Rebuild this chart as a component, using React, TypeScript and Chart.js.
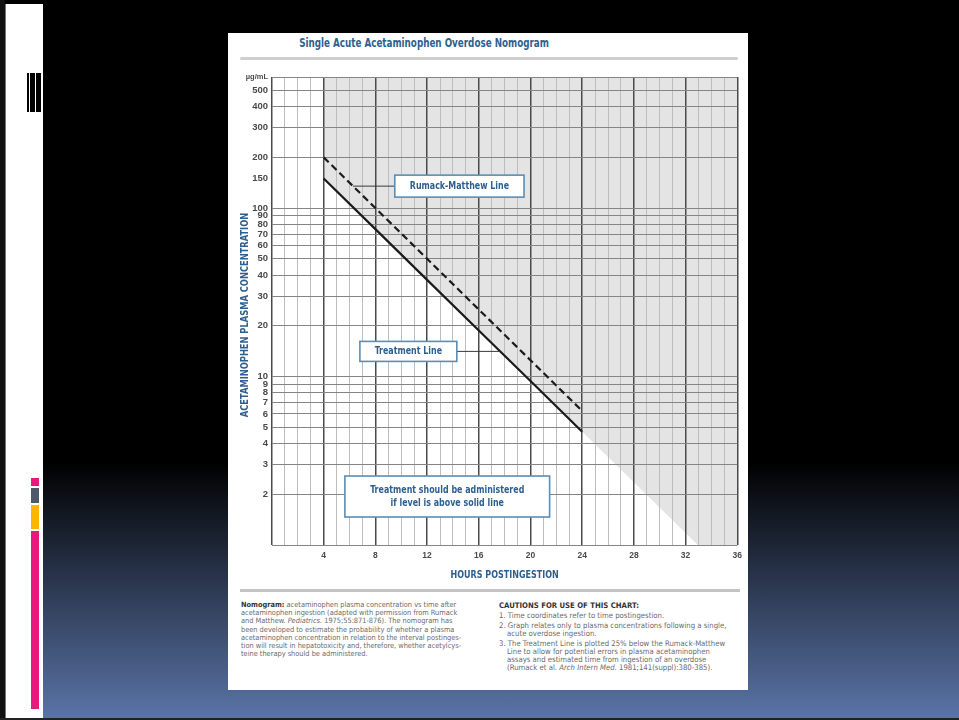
import React, { useEffect, useRef } from 'react';
import { Chart, registerables } from 'chart.js';

Chart.register(...registerables);

// ---- data ----
const rumackHours = [4, 8, 12, 16, 20, 24];
const rumackLevels = [200, 100, 50, 25, 12.5, 6.25];
const treatmentHours = [4, 8, 12, 16, 20, 24];
const treatmentLevels = [150, 75, 37.5, 18.75, 9.4, 4.7];
const shadeHours = [4, 36];
const shadeLevels = [150, 0.59];
const xTickHours = [0, 1, 2, 3, 4, 5, 6, 7, 8, 9, 10, 11, 12, 13, 14, 15, 16, 17, 18, 19, 20, 21, 22, 23, 24, 25, 26, 27, 28, 29, 30, 31, 32, 33, 34, 35, 36];
const xLabelHours = [4, 8, 12, 16, 20, 24, 28, 32, 36];
const xMajorHours = [0, 4, 8, 12, 16, 20, 24, 28, 32, 36];
const yTickValues = [1, 2, 3, 4, 5, 6, 7, 8, 9, 10, 20, 30, 40, 50, 60, 70, 80, 90, 100, 150, 200, 300, 400, 500, 600];
const yTickLabels = ['', '2', '3', '4', '5', '6', '7', '8', '9', '10', '20', '30', '40', '50', '60', '70', '80', '90', '100', '150', '200', '300', '400', '500', 'µg/mL'];
const yUnitValue = 600;
const yNoGridValues = [150];
const xAxisTitle = 'HOURS POSTINGESTION';
const yAxisTitle = 'ACETAMINOPHEN PLASMA CONCENTRATION';

// ---- annotation layout (data-space anchors) ----
const BLUE = '#2f5f8f';
const BOX_BORDER = '#5b8db5';
const notes = [
  { x0: 9.5, x1: 19.5, y: 135, h: 22, lines: ['Rumack-Matthew Line'], lx0: 6.26, lx1: 9.5 },
  { x0: 6.8, x1: 14.3, y: 14.1, h: 20, lines: ['Treatment Line'], lx0: 14.3, lx1: 17.65 },
  { x0: 5.64, x1: 21.48, y: 1.94, h: 41, lines: ['Treatment should be administered', 'if level is above solid line'] },
];

const COND = '"DejaVu Sans Condensed", "Liberation Sans Narrow", sans-serif';
const SANS = '"Liberation Sans", Arial, sans-serif';

function squeezedText(ctx: CanvasRenderingContext2D, text: string, x: number, y: number, sx: number, rot = 0) {
  ctx.save();
  ctx.translate(x, y);
  if (rot) ctx.rotate(rot);
  ctx.scale(sx, 1);
  ctx.fillText(text, 0, 0);
  ctx.restore();
}

const notesPlugin = {
  id: 'nomogramNotes',
  afterDatasetsDraw(chart: any) {
    const { ctx, scales, chartArea } = chart;
    const x = scales.x;
    const y = scales.y;
    ctx.save();
    for (const n of notes) {
      const cy = y.getPixelForValue(n.y);
      if (n.lx0 !== undefined) {
        ctx.beginPath();
        ctx.moveTo(x.getPixelForValue(n.lx0), cy);
        ctx.lineTo(x.getPixelForValue(n.lx1), cy);
        ctx.strokeStyle = '#3a3a3a';
        ctx.lineWidth = 1;
        ctx.stroke();
      }
      const left = x.getPixelForValue(n.x0);
      const right = x.getPixelForValue(n.x1);
      const top = cy - n.h / 2;
      ctx.fillStyle = '#ffffff';
      ctx.fillRect(left, top, right - left, n.h);
      ctx.strokeStyle = BOX_BORDER;
      ctx.lineWidth = 1.6;
      ctx.strokeRect(left, top, right - left, n.h);
      ctx.fillStyle = BLUE;
      ctx.font = `bold 11px ${COND}`;
      ctx.textAlign = 'center';
      ctx.textBaseline = 'middle';
      const lh = 13;
      const startY = cy - ((n.lines.length - 1) * lh) / 2;
      n.lines.forEach((t, i) => squeezedText(ctx, t, (left + right) / 2, startY + i * lh, 0.8));
    }
    // axis titles
    ctx.fillStyle = BLUE;
    ctx.font = `bold 10.5px ${COND}`;
    ctx.textAlign = 'center';
    ctx.textBaseline = 'middle';
    squeezedText(ctx, xAxisTitle, (chartArea.left + chartArea.right) / 2, chartArea.bottom + 30, 0.85);
    squeezedText(ctx, yAxisTitle, 17, (chartArea.top + chartArea.bottom) / 2 + 4, 0.88, -Math.PI / 2);
    ctx.restore();
  },
};

function NomogramChart() {
  const ref = useRef<HTMLCanvasElement | null>(null);
  useEffect(() => {
    if (!ref.current) return;
    const chart = new Chart(ref.current, {
      type: 'line',
      data: {
        datasets: [
          {
            label: 'shade',
            data: shadeHours.map((h, i) => ({ x: h, y: shadeLevels[i] })),
            borderWidth: 0,
            borderColor: 'rgba(0,0,0,0)',
            pointRadius: 0,
            fill: 'end',
            backgroundColor: '#e4e4e4',
          },
          {
            label: 'Rumack-Matthew Line',
            data: rumackHours.map((h, i) => ({ x: h, y: rumackLevels[i] })),
            borderColor: '#1b1b1b',
            borderWidth: 2.2,
            borderDash: [7, 4],
            pointRadius: 0,
            fill: false,
          },
          {
            label: 'Treatment Line',
            data: treatmentHours.map((h, i) => ({ x: h, y: treatmentLevels[i] })),
            borderColor: '#1b1b1b',
            borderWidth: 2.2,
            pointRadius: 0,
            fill: false,
          },
        ],
      },
      options: {
        responsive: false,
        animation: false,
        events: [],
        layout: { padding: { top: 15, right: 10, left: 0, bottom: 0 } },
        plugins: {
          legend: { display: false },
          tooltip: { enabled: false },
          filler: { drawTime: 'beforeDraw' },
        } as any,
        scales: {
          x: {
            type: 'linear',
            min: 0,
            max: 36,
            afterFit: (s: any) => { s.height = 43; },
            afterBuildTicks: (s: any) => { s.ticks = xTickHours.map((v) => ({ value: v })); },
            border: { display: false },
            grid: {
              drawTicks: false,
              color: (c: any) => (xMajorHours.includes(c.tick?.value) ? '#4a4a4a' : '#bdbdbd'),
              lineWidth: (c: any) => (xMajorHours.includes(c.tick?.value) ? 1.5 : 1),
            },
            ticks: {
              autoSkip: false,
              maxRotation: 0,
              padding: 6,
              color: '#4a4a4a',
              font: { family: SANS, size: 8.5, weight: 'bold' },
              callback: (v: any) => (xLabelHours.includes(Number(v)) ? String(v) : ''),
            },
            title: { display: false },
          },
          y: {
            type: 'logarithmic',
            min: 1,
            max: 600,
            afterFit: (s: any) => { s.width = 44; },
            afterBuildTicks: (s: any) => { s.ticks = yTickValues.map((v) => ({ value: v })); },
            border: { display: false },
            grid: {
              drawTicks: false,
              color: (c: any) => (yNoGridValues.includes(c.tick?.value) ? 'rgba(0,0,0,0)' : '#858585'),
              lineWidth: 1,
            },
            ticks: {
              autoSkip: false,
              padding: 4,
              color: '#4a4a4a',
              font: (c: any) =>
                c.tick && c.tick.value === yUnitValue
                  ? { family: SANS, size: 7.5, weight: 'bold' }
                  : { family: SANS, size: 9.5, weight: 'bold' },
              callback: (v: any) => {
                const i = yTickValues.indexOf(Number(v));
                return i >= 0 ? yTickLabels[i] : '';
              },
            },
            title: { display: false },
          },
        },
      } as any,
      plugins: [notesPlugin],
    });
    return () => chart.destroy();
  }, []);
  return (
    <canvas
      ref={ref}
      width={520}
      height={526}
      style={{ position: 'absolute', left: 228, top: 62, width: 520, height: 526 }}
    />
  );
}

export default function App() {
  const footStyle: React.CSSProperties = {
    position: 'absolute',
    fontFamily: COND,
    lineHeight: '8.2px',
    color: '#6a6a6a',
    whiteSpace: 'nowrap',
  };
  const item: React.CSSProperties = { marginTop: 2, paddingLeft: 8, textIndent: -8 };
  return (
    <div
      style={{
        position: 'fixed',
        left: 0,
        top: 0,
        width: 959,
        height: 720,
        overflow: 'hidden',
        background: 'linear-gradient(to bottom, #000 0px, #000 462px, #5a74a6 718px)',
      }}
    >
      {/* slide frame */}
      <div style={{ position: 'absolute', left: 0, top: 0, width: 5, height: 720, background: '#111' }} />
      <div style={{ position: 'absolute', left: 5, top: 4, width: 1, height: 716, background: '#777' }} />
      <div style={{ position: 'absolute', left: 6, top: 4, width: 37, height: 715, background: '#fff' }} />
      <div style={{ position: 'absolute', left: 0, top: 718, width: 959, height: 2, background: '#222' }} />
      {/* decorative bars top-left */}
      <div style={{ position: 'absolute', left: 27, top: 73, width: 1.5, height: 39, background: '#000' }} />
      <div style={{ position: 'absolute', left: 30, top: 73, width: 1.5, height: 39, background: '#000' }} />
      <div style={{ position: 'absolute', left: 32, top: 73, width: 3, height: 39, background: '#000' }} />
      <div style={{ position: 'absolute', left: 36, top: 73, width: 5, height: 39, background: '#000' }} />
      {/* coloured bars bottom-left */}
      <div style={{ position: 'absolute', left: 31, top: 478, width: 8, height: 8, background: '#e8197d' }} />
      <div style={{ position: 'absolute', left: 31, top: 488, width: 8, height: 15, background: '#4e5a6c' }} />
      <div style={{ position: 'absolute', left: 31, top: 505, width: 8, height: 24, background: '#ffb400' }} />
      <div style={{ position: 'absolute', left: 31, top: 531, width: 8, height: 178, background: '#e8197d' }} />

      {/* paper card */}
      <div style={{ position: 'absolute', left: 228, top: 33, width: 520, height: 657, background: '#fff' }} />
      <div
        style={{
          position: 'absolute',
          left: 224,
          top: 35,
          width: 400,
          textAlign: 'center',
          fontFamily: COND,
          fontWeight: 'bold',
          fontSize: 13,
          lineHeight: '16px',
          color: BLUE,
          whiteSpace: 'nowrap',
          transform: 'scaleX(0.75)',
          transformOrigin: '200px 8px',
        }}
      >
        Single Acute Acetaminophen Overdose Nomogram
      </div>
      <div style={{ position: 'absolute', left: 240, top: 57, width: 498, height: 3, borderRadius: 2, background: '#cfcfcf' }} />

      <NomogramChart />

      <div style={{ position: 'absolute', left: 240, top: 589, width: 500, height: 3, background: '#c4c4c4' }} />
      <div style={{ ...footStyle, fontSize: 7.35, left: 241, top: 601 }}>
        <b style={{ color: '#333' }}>Nomogram:</b> acetaminophen plasma concentration vs time after<br />
        acetaminophen ingestion (adapted with permission from Rumack<br />
        and Matthew. <i>Pediatrics.</i> 1975;55:871-876). The nomogram has<br />
        been developed to estimate the probability of whether a plasma<br />
        acetaminophen concentration in relation to the interval postinges-<br />
        tion will result in hepatotoxicity and, therefore, whether acetylcys-<br />
        teine therapy should be administered.
      </div>
      <div style={{ ...footStyle, fontSize: 7.7, lineHeight: '8px', left: 499, top: 602 }}>
        <div style={{ fontWeight: 'bold', color: '#333' }}>CAUTIONS FOR USE OF THIS CHART:</div>
        <div style={item}>1. Time coordinates refer to time postingestion.</div>
        <div style={item}>
          2. Graph relates only to plasma concentrations following a single,<br />
          acute overdose ingestion.
        </div>
        <div style={item}>
          3. The Treatment Line is plotted 25% below the Rumack-Matthew<br />
          Line to allow for potential errors in plasma acetaminophen<br />
          assays and estimated time from ingestion of an overdose<br />
          (Rumack et al. <i>Arch Intern Med.</i> 1981;141(suppl):380-385).
        </div>
      </div>
    </div>
  );
}
